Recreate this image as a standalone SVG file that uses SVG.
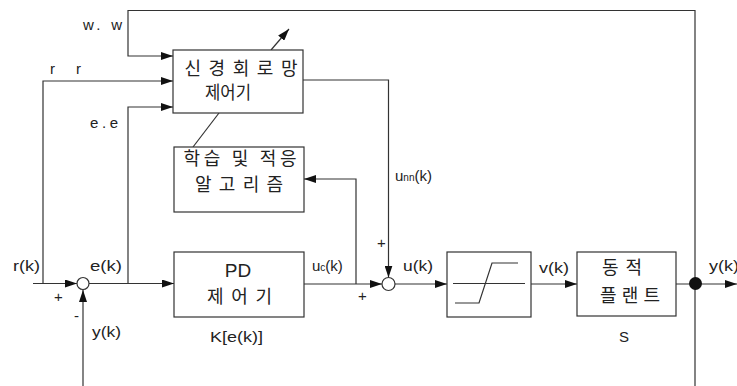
<svg xmlns="http://www.w3.org/2000/svg" width="737" height="386" viewBox="0 0 737 386">
<defs>
<marker id="ah" viewBox="0 0 12 8" refX="12" refY="4" markerWidth="12" markerHeight="8" markerUnits="userSpaceOnUse" orient="auto">
<path d="M0,0 L12,4 L0,8 Z" fill="#111"/>
</marker>
<style>
.box{fill:#fff;stroke:#333;stroke-width:1.2}
.ln{fill:none;stroke:#333;stroke-width:1.2}
.arr{fill:none;stroke:#333;stroke-width:1.2;marker-end:url(#ah)}
.lat{font-family:"Liberation Sans",Arial,sans-serif;font-size:15px;fill:#222}
.kr{font-family:"Noto Sans CJK KR","Noto Sans",sans-serif;font-size:18px;fill:#222;text-anchor:middle}
.sum{fill:#fff;stroke:#333;stroke-width:1.2}
</style>
</defs>
<rect width="737" height="386" fill="#fff"/>

<g id="connectors">
<path class="arr" d="M695,386 L695,10.5 L128,10.5 L128,56 L173,56"/>
<path class="arr" d="M33,283.5 L77,283.5"/>
<path class="arr" d="M43,283.5 L43,81 L173,81"/>
<path class="arr" d="M89,283.5 L174,283.5"/>
<path class="arr" d="M128,283.5 L128,107 L173,107"/>
<path class="arr" d="M83,386 L83,290"/>
<path class="arr" d="M304,284 L382,284"/>
<path class="arr" d="M356,284 L356,179 L304,179"/>
<path class="arr" d="M303,80 L388.5,80 L388.5,277.5"/>
<path class="arr" d="M395,284 L447,284"/>
<path class="arr" d="M531,284 L577,284"/>
<path class="arr" d="M676,284 L737,284"/>
<path class="ln" d="M193,147 L219,113"/>
<path class="arr" d="M271,50 L289,29"/>
</g>

<g id="sum1"><circle class="sum" cx="83" cy="283.5" r="6"/></g>
<g id="sum2"><circle class="sum" cx="388.5" cy="284" r="6.5"/></g>
<g id="junction"><circle cx="695.5" cy="283.5" r="6.5" fill="#111"/></g>

<g id="nn">
<rect class="box" x="173" y="50" width="130" height="63"/>
<text class="kr" x="241" y="75" textLength="113" lengthAdjust="spacing">신경회로망</text>
<text class="kr" x="228" y="99" textLength="46" lengthAdjust="spacingAndGlyphs" font-size="17">제어기</text>
</g>

<g id="learning">
<rect class="box" x="174" y="147" width="130" height="65"/>
<text class="kr" x="240" y="165" textLength="113" lengthAdjust="spacing">학습 및 적응</text>
<text class="kr" x="239" y="191" textLength="88" lengthAdjust="spacing">알고리즘</text>
</g>

<g id="pd">
<rect class="box" x="174" y="252" width="130" height="65"/>
<text x="238" y="277" text-anchor="middle" style="font-family:'Liberation Sans',Arial,sans-serif;font-size:19px;fill:#222">PD</text>
<text class="kr" x="239.5" y="303" font-size="19" textLength="65" lengthAdjust="spacing">제어기</text>
<text class="lat" x="210" y="342" font-size="16" textLength="53" lengthAdjust="spacingAndGlyphs">K[e(k)]</text>
</g>

<g id="saturation">
<rect class="box" x="447" y="252" width="84" height="65"/>
<path class="ln" d="M453,283.5 L525,283.5"/>
<path class="ln" d="M455,303 L479,303 L492,263 L518,263"/>
</g>

<g id="plant">
<rect class="box" x="577" y="252" width="99" height="64"/>
<text class="kr" x="622" y="274" font-size="19" textLength="40" lengthAdjust="spacing">동적</text>
<text class="kr" x="630" y="302" font-size="19" textLength="60" lengthAdjust="spacing">플랜트</text>
<text class="lat" x="619" y="342" font-size="16">S</text>
</g>

<g id="labels">
<text class="lat" x="83" y="30" font-size="17" textLength="39" lengthAdjust="spacing">w. w</text>
<text class="lat" x="50" y="74">r</text>
<text class="lat" x="76" y="74">r</text>
<text class="lat" x="90" y="128" font-size="17" textLength="28" lengthAdjust="spacing">e.e</text>
<text class="lat" x="13" y="271" textLength="27" lengthAdjust="spacingAndGlyphs">r(k)</text>
<text class="lat" x="90" y="271" textLength="32" lengthAdjust="spacingAndGlyphs">e(k)</text>
<text class="lat" x="54" y="302" font-size="14">+</text>
<text class="lat" x="74" y="321" font-size="14">-</text>
<text class="lat" x="92" y="337" textLength="29" lengthAdjust="spacingAndGlyphs">y(k)</text>
<text class="lat" x="312" y="271">u<tspan font-size="10">c</tspan>(k)</text>
<text class="lat" x="395" y="181">u<tspan font-size="10">nn</tspan>(k)</text>
<text class="lat" x="377" y="248" font-size="14">+</text>
<text class="lat" x="358" y="301" font-size="14">+</text>
<text class="lat" x="403" y="271" textLength="30" lengthAdjust="spacingAndGlyphs">u(k)</text>
<text class="lat" x="539" y="273" textLength="30" lengthAdjust="spacingAndGlyphs">v(k)</text>
<text class="lat" x="709" y="271" textLength="30" lengthAdjust="spacingAndGlyphs">y(k)</text>
</g>
</svg>
